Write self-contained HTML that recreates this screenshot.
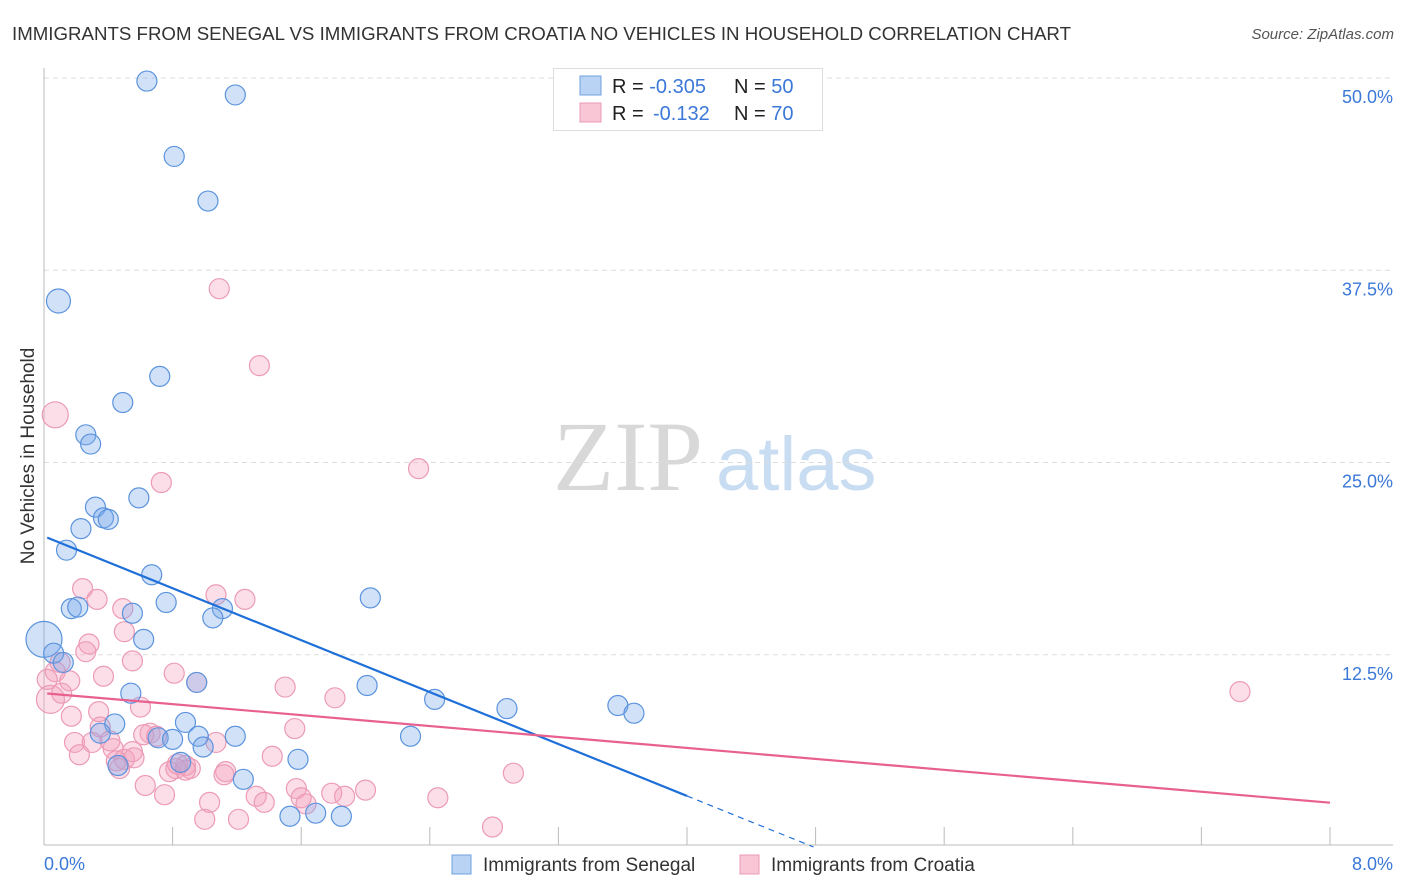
<!DOCTYPE html>
<html><head><meta charset="utf-8"><style>
body{margin:0;background:#fff;font-family:"Liberation Sans",sans-serif;}
svg{display:block}
</style></head><body>
<svg id="c" width="1406" height="892" xmlns="http://www.w3.org/2000/svg">
<text x="12" y="40" font-size="18.5" textLength="1059" lengthAdjust="spacingAndGlyphs" fill="#333">IMMIGRANTS FROM SENEGAL VS IMMIGRANTS FROM CROATIA NO VEHICLES IN HOUSEHOLD CORRELATION CHART</text>
<text x="1394" y="39" font-size="15" fill="#555" font-style="italic" text-anchor="end">Source: ZipAtlas.com</text>
<text transform="translate(34,456) rotate(-90)" font-size="19" fill="#333" text-anchor="middle">No Vehicles in Household</text>
<g><text x="553" y="490" font-size="100" font-family="Liberation Serif,serif" fill="#d8d8d8">ZIP</text><text x="716" y="490" font-size="76" fill="#c8dcf2">atlas</text></g>
<g id="grid"></g><g id="axes"></g><g id="pts"></g><g id="lines"></g>
<g>
<rect x="553.5" y="68.5" width="269" height="62" fill="#fff" stroke="#ddd"/>
<rect x="580" y="76" width="21" height="19" fill="#b9d3f5" stroke="#6fa0e0"/>
<rect x="580" y="103" width="21" height="19" fill="#f9c6d6" stroke="#eb9ab6"/>
<text x="612" y="93" font-size="20" fill="#222">R = <tspan fill="#3b78d8">-0.305</tspan><tspan x="734">N = </tspan><tspan fill="#3b78d8">50</tspan></text>
<text x="612" y="120" font-size="20" fill="#222">R = <tspan x="653" fill="#3b78d8">-0.132</tspan><tspan x="734">N = </tspan><tspan fill="#3b78d8">70</tspan></text>
</g>
<g>
<rect x="452" y="855" width="19" height="19" fill="#b9d3f5" stroke="#6fa0e0"/>
<text x="483" y="871" font-size="19" fill="#333">Immigrants from Senegal</text>
<rect x="740" y="855" width="19" height="19" fill="#f9c6d6" stroke="#eb9ab6"/>
<text x="771" y="871" font-size="19" fill="#333">Immigrants from Croatia</text>
</g>
</svg>
<script>
const yTicks=[12.5,25,37.5,50];
const yTickLabels=["12.5%","25.0%","37.5%","50.0%"];
const xTickLabels=["0.0%","8.0%"];
const senegalX=[0.64,1.19,0.81,1.02,0.09,0.72,0.49,0.26,0.29,0.59,0.32,0.37,0.40,0.23,0.14,0.67,0.76,0.17,0.21,0.55,1.11,1.05,2.03,0.62,0.0,0.06,0.12,0.95,0.54,2.01,2.43,2.88,3.57,3.67,0.44,0.88,0.35,0.71,0.80,1.19,0.96,2.28,0.99,1.58,0.85,0.46,1.24,1.53,1.69,1.85];
const senegalY=[49.8,48.9,44.9,42.0,35.5,30.6,28.9,26.8,26.2,22.7,22.1,21.4,21.3,20.7,19.3,17.7,15.9,15.5,15.6,15.2,15.5,14.9,16.2,13.5,13.5,12.6,12.0,10.7,10.0,10.5,9.6,9.0,9.2,8.7,8.0,8.1,7.4,7.1,7.0,7.2,7.2,7.2,6.5,5.7,5.5,5.3,4.4,2.0,2.2,2.0];
const senegalR=[10,10,10,10,12,10,10,10,10,10,10,10,10,10,10,10,10,10,10,10,10,10,10,10,18,10,10,10,10,10,10,10,10,10,10,10,10,10,10,10,10,10,10,10,10,10,10,10,10,10];
const croatiaX=[1.09,1.34,0.07,2.33,0.73,0.24,0.33,1.07,1.25,0.49,0.28,0.50,0.26,0.55,0.10,0.07,0.37,0.81,0.95,1.50,1.81,7.44,0.16,0.04,0.11,0.17,0.60,0.34,0.35,1.56,0.19,0.66,0.70,1.07,0.30,0.41,0.22,0.55,0.43,0.88,0.78,0.91,1.13,1.42,0.45,0.50,1.12,2.92,0.63,0.75,1.32,1.03,1.79,2.00,1.57,1.60,1.63,1.87,2.45,1.37,1.00,1.21,2.79,0.83,0.47,0.62,0.82,0.02,0.88,0.56];
const croatiaY=[36.3,31.3,28.1,24.6,23.7,16.8,16.1,16.4,16.1,15.5,13.2,14.0,12.7,12.1,12.0,11.4,11.1,11.3,10.7,10.4,9.7,10.1,10.8,9.6,10.0,8.5,9.1,8.8,7.8,7.7,6.8,7.4,7.2,6.8,6.8,6.9,6.0,6.2,6.4,5.3,4.9,5.1,4.9,5.9,5.6,5.7,4.7,4.8,4.0,3.4,3.3,2.9,3.5,3.7,3.8,3.2,2.8,3.3,3.2,2.9,1.8,1.8,1.3,5.4,5.1,7.3,5.1,10.9,5.0,5.8];
const croatiaR=[10,10,13,10,10,10,10,10,10,10,10,10,10,10,10,10,10,10,10,10,10,10,10,14,10,10,10,10,10,10,10,10,10,10,10,10,10,10,10,10,10,10,10,10,10,10,10,10,10,10,10,10,10,10,10,10,10,10,10,10,10,10,10,10,10,10,10,10,10,10];
const senegalTrend=[20.2,-4.22];
const croatiaTrend=[10.0,-0.89];
const X0=44,X1=1330,Y0=847,Y50=78;
const sx=v=>X0+(X1-X0)*v/8;
const sy=v=>Y0-(Y0-Y50)*v/50;
const NS="http://www.w3.org/2000/svg";
function mk(parent,tag,attrs){const e=document.createElementNS(NS,tag);for(const k in attrs)e.setAttribute(k,attrs[k]);document.getElementById(parent).appendChild(e);return e;}
yTicks.forEach((t,i)=>{
 const g=mk('grid','line',{x1:X0,x2:1393,y1:sy(t),y2:sy(t),stroke:'#ddd','stroke-dasharray':'5,4'});
 
 
 const l=mk('grid','text',{x:1393,y:sy(t)+25,'font-size':18,fill:'#3b78d8','text-anchor':'end'});
 l.textContent=yTickLabels[i];
 
 
});
const ya=mk('axes','line',{x1:X0,x2:X0,y1:68,y2:845,stroke:'#bbb'});


const xa=mk('axes','line',{x1:X0,x2:1393,y1:845,y2:845,stroke:'#bbb'});


for(let i=1;i<=10;i++){
 const t=mk('axes','line',{x1:sx(i*0.8),x2:sx(i*0.8),y1:827,y2:845,stroke:'#bbb'});
 
 
}
[[0,44,'start'],[1,1393,'end']].forEach(([i,x,a])=>{
 const l=mk('axes','text',{x:x,y:870,'font-size':18,fill:'#3b78d8','text-anchor':a});
 l.textContent=xTickLabels[i];
 
 
});
croatiaX.forEach((x,i)=>{
 const c=mk('pts','circle',{cx:sx(x),cy:sy(croatiaY[i]),r:croatiaR[i],fill:'rgba(244,160,188,0.35)',stroke:'#ec9ab6','stroke-width':1.2});
 
 
});
senegalX.forEach((x,i)=>{
 const c=mk('pts','circle',{cx:sx(x),cy:sy(senegalY[i]),r:senegalR[i],fill:'rgba(120,170,235,0.35)',stroke:'#5b93dd','stroke-width':1.2});
 
 
});
const bf=x=>senegalTrend[0]+senegalTrend[1]*x, pf=x=>croatiaTrend[0]+croatiaTrend[1]*x;
const bl=mk('lines','line',{x1:sx(0.02),y1:sy(bf(0.02)),x2:sx(4.0),y2:sy(bf(4.0)),stroke:'#1f6fd9','stroke-width':2.2});


const xe=-senegalTrend[0]/senegalTrend[1];
const bd=mk('lines','line',{x1:sx(4.0),y1:sy(bf(4.0)),x2:sx(xe),y2:sy(0),stroke:'#1f6fd9','stroke-width':1.2,'stroke-dasharray':'6,5'});


const pl=mk('lines','line',{x1:sx(0.02),y1:sy(pf(0.02)),x2:sx(8),y2:sy(pf(8)),stroke:'#e8608f','stroke-width':2.2});


</script>
</body></html>
